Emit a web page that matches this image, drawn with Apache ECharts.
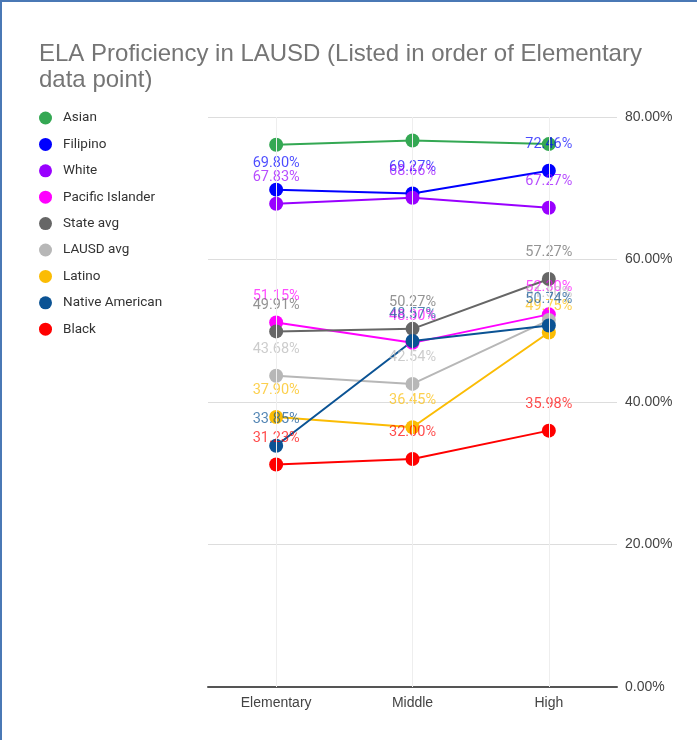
<!doctype html>
<html>
    <head>
        <meta charset="utf-8">
        <title>ELA Proficiency in LAUSD</title>
        <style>
            html, body { margin: 0; padding: 0; background: #fff; }
            #main { width: 697px; height: 740px; box-sizing: border-box;
                    border-top: 2px solid #4a78b5; border-left: 2px solid #4a78b5; }
        </style>
    </head>
    <body>
        <div id="main"></div>
        <script src="https://cdn.jsdelivr.net/npm/echarts@6/dist/echarts.min.js"></script>
        <script>
            var levels = ['Elementary', 'Middle', 'High'];

            var asian = [76.10, 76.70, 76.20];
            var filipino = [69.80, 69.27, 72.46];
            var white = [67.83, 68.66, 67.27];
            var pacificIslander = [51.15, 48.30, 52.30];
            var stateAvg = [49.91, 50.27, 57.27];
            var lausdAvg = [43.68, 42.54, 51.50];
            var latino = [37.90, 36.45, 49.75];
            var nativeAmerican = [33.85, 48.57, 50.74];
            var black = [31.23, 32.00, 35.98];

            var groups = [
                ['Asian', asian, '#34a853', false],
                ['Filipino', filipino, '#0000ff', true],
                ['White', white, '#9900ff', true],
                ['Pacific Islander', pacificIslander, '#ff00ff', true],
                ['State avg', stateAvg, '#666666', true],
                ['LAUSD avg', lausdAvg, '#b7b7b7', true],
                ['Latino', latino, '#fbbc04', true],
                ['Native American', nativeAmerican, '#0b5394', true],
                ['Black', black, '#ff0000', true]
            ];

            var chart = echarts.init(document.getElementById('main'));

            var series = groups.map(function (g, i) {
                var s = {
                    name: g[0],
                    type: 'line',
                    data: g[1],
                    color: g[2],
                    symbol: 'circle',
                    symbolSize: 14,
                    lineStyle: { width: 2 },
                    emphasis: { disabled: true },
                    label: {
                        show: g[3],
                        position: 'top',
                        distance: 12,
                        fontFamily: 'Roboto',
                        fontSize: 14.5,
                        color: g[2],
                        opacity: 0.7,
                        formatter: function (p) { return p.value.toFixed(2) + '%'; }
                    }
                };
                if (i === 0) {
                    s.markLine = {
                        silent: true,
                        symbol: 'none',
                        label: { show: false },
                        lineStyle: { color: '#eeeeee', width: 1, type: 'solid' },
                        data: levels.map(function (l) { return { xAxis: l }; })
                    };
                }
                return s;
            });

            chart.setOption({
                backgroundColor: '#fff',
                animation: false,
                title: {
                    text: 'ELA Proficiency in LAUSD (Listed in order of Elementary\ndata point)',
                    left: 32,
                    top: 34,
                    textStyle: {
                        fontFamily: 'Liberation Sans',
                        fontWeight: 'normal',
                        fontSize: 24,
                        lineHeight: 26,
                        color: '#757575'
                    }
                },
                legend: {
                    orient: 'vertical',
                    left: 32,
                    top: 104,
                    icon: 'circle',
                    itemWidth: 13,
                    itemHeight: 13,
                    itemGap: 12.4,
                    textStyle: {
                        fontFamily: 'Roboto',
                        fontSize: 13.5,
                        lineHeight: 13,
                        color: '#333',
                        padding: [0, 0, 0, 6]
                    }
                },
                grid: {
                    left: 206,
                    right: 80,
                    top: 115,
                    bottom: 53
                },
                xAxis: {
                    type: 'category',
                    data: levels,
                    axisTick: { show: false },
                    axisLine: { lineStyle: { color: '#555', width: 2 } },
                    axisLabel: {
                        margin: 9,
                        fontFamily: 'Liberation Sans',
                        fontSize: 14,
                        color: '#444'
                    }
                },
                yAxis: {
                    type: 'value',
                    position: 'right',
                    min: 0,
                    max: 80,
                    interval: 20,
                    axisLine: { show: false },
                    axisTick: { show: false },
                    splitLine: { lineStyle: { color: '#dddddd' } },
                    axisLabel: {
                        margin: 8,
                        fontFamily: 'Liberation Sans',
                        fontSize: 14,
                        color: '#444',
                        formatter: function (v) { return v.toFixed(2) + '%'; }
                    }
                },
                series: series
            });

            window.onresize = chart.resize;
        </script>
    </body>
</html>
